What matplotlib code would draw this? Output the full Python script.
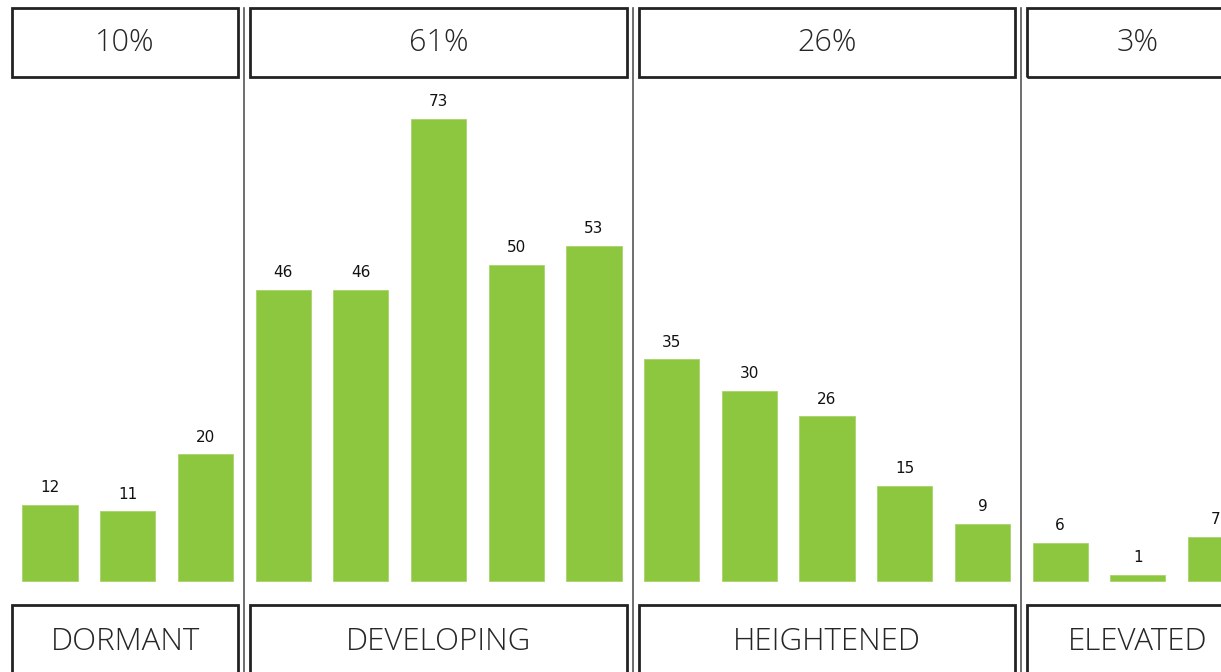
import matplotlib
matplotlib.use("Agg")
import matplotlib.pyplot as plt
from matplotlib.patches import Rectangle

# data
groups = ["DORMANT", "DEVELOPING", "HEIGHTENED", "ELEVATED"]
group_pct = ["10%", "61%", "26%", "3%"]
group_sizes = [3, 5, 5, 3]
values = [12, 11, 20,
          46, 46, 73, 50, 53,
          35, 30, 26, 15, 9,
          6, 1, 7]

green = "#8dc63f"
box_col = "#222222"
text_col = "#262626"

fig = plt.figure(figsize=(12.21, 6.72), dpi=100)
ax = fig.add_axes([0, 0, 1, 1])

x = list(range(len(values)))
bars = ax.bar(x, values, width=0.71, color=green, edgecolor="#a6d46a", linewidth=0.6, zorder=2)
for b, v in zip(bars, values):
    ax.annotate(str(v), (b.get_x() + b.get_width() / 2, v), xytext=(0, 7),
                textcoords="offset points", ha="center", va="bottom",
                fontsize=11, color="#111111", family="DejaVu Sans")

# group boxes and separators
top_lo, top_hi = 79.6, 90.5
bot_hi, bot_lo = -3.8, -16
start = 0
for i, (name, pct, n) in enumerate(zip(groups, group_pct, group_sizes)):
    left = start - 0.5 + 0.075
    right = start + n - 0.5 - 0.075
    if i == 0:
        left = -0.49
    for lo, hi in [(top_lo, top_hi), (bot_lo, bot_hi)]:
        ax.add_patch(Rectangle((left, lo), right - left, hi - lo, fill=False,
                               edgecolor=box_col, linewidth=2, zorder=3))
    ax.text((left + right) / 2, (top_lo + top_hi) / 2, pct, ha="center", va="center",
            fontsize=22, color=text_col, family="Open Sans", fontweight="light")
    ax.text((left + right) / 2, -9.6, name, ha="center", va="center",
            fontsize=22.5, color=text_col, family="Open Sans", fontweight="light")
    if i > 0:
        ax.plot([start - 0.5, start - 0.5], [-20, top_hi], color="#555555", linewidth=1.2, zorder=1)
    start += n

ax.set_xlim(-0.6435, 15.07)
ax.set_ylim(-14.38, 91.8)
ax.axis("off")

fig.savefig("out.png", dpi=100)
